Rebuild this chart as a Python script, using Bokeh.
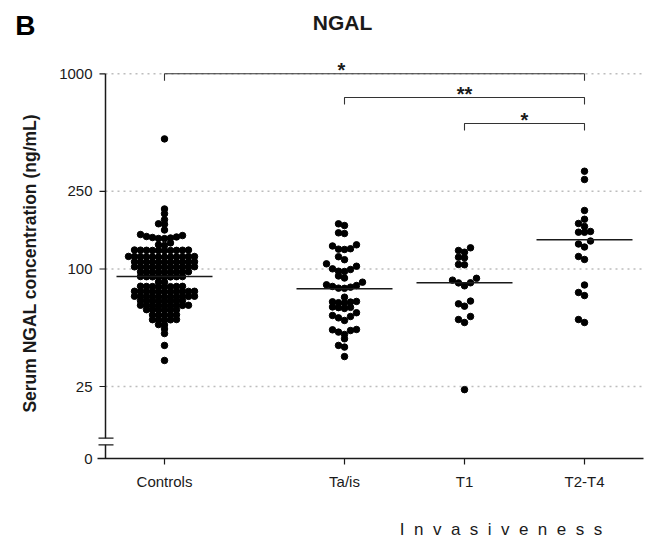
import numpy as np
from bokeh.plotting import figure
from bokeh.layouts import column
from bokeh.models import Range1d, FixedTicker
from bokeh.core.properties import value
from bokeh.embed import file_html
from bokeh.resources import INLINE

# ---------------- data ----------------
categories = ["Controls", "Ta/is", "T1", "T2-T4"]

controls = [
    464,
    203, 192, 179,
    170.5, 169.5,
    158.4,
    150.2, 148.4, 146.7, 145.9, 145.0, 144.2, 143.3, 143.1,
    136, 133, 132,
    125.1, 124.4, 124.9, 124.6, 125.0, 124.3, 124.8, 124.5, 124.7, 124.2,
    115.9, 115.3, 115.7, 115.5, 116.0, 115.2, 115.8, 115.4, 115.6, 115.1, 115.7, 115.9,
    108.9, 108.3, 108.7, 108.5, 108.8, 108.2, 108.6, 108.4, 108.9, 108.5, 108.7,
    102.7, 102.1, 102.5, 102.3, 102.6, 102.0, 102.4, 102.2, 102.6, 102.3, 102.5,
    96.8, 96.2, 96.6, 96.4, 96.7, 96.3, 96.5, 96.2, 96.7,
    91.4, 91.0, 91.3, 91.1, 91.5, 90.9, 91.2, 91.3,
    85.9, 85.6,
    81.5, 81.1, 81.4, 81.2, 81.6, 81.0, 81.3, 81.4,
    76.9, 76.5, 76.8, 76.6, 76.9, 76.4, 76.7, 76.5, 76.8, 76.6, 76.7,
    72.5, 72.1, 72.4, 72.2, 72.5, 72.0, 72.3, 72.1, 72.4, 72.2, 72.3,
    68.8, 68.4, 68.7, 68.5, 68.8, 68.3, 68.6, 68.5,
    65.2, 64.8, 65.1, 64.9, 65.2, 64.8, 65.0, 64.9, 65.1,
    61.9, 61.5, 61.8, 61.6, 61.8, 61.6,
    58.3, 57.9, 58.2, 58.0, 58.1,
    55.1, 54.7, 55.0, 54.8, 54.9,
    51.9, 51.7,
    49.3, 46.7, 40.6, 34.0,
]

ta_is = [
    170.4, 167.0, 153.2, 152.0,
    133.0, 131.2, 127.0, 126.4, 125.9,
    115.6, 111.6,
    106.3, 103.3, 100.2, 99.4, 97.4, 97.1,
    92.1, 89.9,
    85.6, 83.0, 82.3, 81.4, 80.7, 79.8, 79.6,
    71.7,
    68.2, 67.9, 67.7, 67.2, 66.9,
    63.9, 63.6, 63.4, 62.8,
    59.7, 57.8, 57.1, 56.2, 54.5,
    49.0, 48.8, 48.4, 47.5, 46.2,
    43.9, 40.6, 39.8, 35.6,
]

t1 = [128.4, 124.4, 121.9, 114.9, 114.1, 105.5, 105.1,
      89.6, 87.7, 85.0, 84.9, 82.0,
      68.5, 66.3, 64.5, 57.1, 55.1, 53.2, 24.1]

t2_t4 = [316.9, 287.4, 199.4, 179.8, 171.1, 165.1,
         155.7, 154.4, 154.2, 139.1, 134.3, 129.6,
         115.9, 111.9, 82.8, 75.8, 73.1, 55.1, 53.2]

medians = [91.5, 79.2, 85.0, 141.1]

y_ticks = [25, 100, 250, 1000]
y_tick_labels = ["25", "100", "250", "1000"]

# significance brackets
bracket_from = ["Controls", "Ta/is", "T1"]
bracket_to = ["T2-T4", "T2-T4", "T2-T4"]
bracket_level = [1000, 756, 556]
bracket_stars = ["*", "**", "*"]

panel_letter = "B"
title_text = "NGAL"
x_title = "Invasiveness"
y_title = "Serum NGAL concentration (ng/mL)"

# ---------------- layout (page pixels) ----------------
W = 647
HEAD_H, MAIN_H, FOOT_H = 58, 442, 43          # stacked figures, total 543
FRAME_L, FRAME_R = 97, 643
FRAME_T, FRAME_B = HEAD_H, 458
AXIS_X = 105                                  # y axis line
positions = [1.0, 2.5, 3.5, 4.5]              # x layout of the groups
PX_PER_X = 120.0
X0 = positions[0] - (164 - FRAME_L) / PX_PER_X
X1 = X0 + (FRAME_R - FRAME_L) / PX_PER_X
PX_PER_DEC = 195.2
Y_1000 = 73.3                                 # page px of the 1000 line
Y1 = 10 ** (3 + (Y_1000 - FRAME_T) / PX_PER_DEC)
Y0 = 10 ** (3 - (FRAME_B - Y_1000) / PX_PER_DEC)   # broken axis shows "0" here

FONT = "Liberation Sans"
INK = "#1a1a1a"


def xd(px):
    return X0 + (px - FRAME_L) / PX_PER_X


def yd(py):
    return 10 ** (np.log10(Y1) - (py - FRAME_T) / PX_PER_DEC)


COL_W = 6.0    # px between swarm columns
ROW_GAP = 3.5  # px; a larger gap starts a new swarm row


def swarm(values):
    v = np.sort(np.asarray(values, dtype=float))
    hp = np.log10(v) * PX_PER_DEC
    rows, cur = [], [0]
    for i in range(1, len(v)):
        if hp[i] - hp[i - 1] > ROW_GAP:
            rows.append(cur)
            cur = [i]
        else:
            cur.append(i)
    rows.append(cur)
    off = np.zeros(len(v))
    for r in rows:
        for k, idx in enumerate(r):
            c = 0 if k == 0 else (-((k + 1) // 2) if k % 2 == 1 else k // 2)
            off[idx] = c * COL_W / PX_PER_X
    return v, off


def strip_fig(h, top, with_left_axis=False):
    f = figure(width=W, height=h, x_range=Range1d(FRAME_L, FRAME_R),
               y_range=Range1d(top + h, top), output_backend="svg",
               toolbar_location=None, title=None,
               x_axis_location=None, y_axis_location="left" if with_left_axis else None,
               min_border_left=FRAME_L, min_border_right=W - FRAME_R,
               min_border_top=0, min_border_bottom=0)
    f.outline_line_color = None
    f.grid.visible = False
    return f


# ---------------- header: panel letter and title ----------------
head = strip_fig(HEAD_H, 0, with_left_axis=True)
head.yaxis.ticker = FixedTicker(ticks=[25])
head.yaxis.major_label_overrides = {25: panel_letter}
head.yaxis.axis_line_color = None
head.yaxis.major_tick_line_color = None
head.yaxis.minor_tick_line_color = None
head.yaxis.major_tick_out = 0
head.yaxis.major_tick_in = 0
head.yaxis.major_label_standoff = FRAME_L - 35
head.yaxis.major_label_text_font = FONT
head.yaxis.major_label_text_font_size = "28px"
head.yaxis.major_label_text_font_style = "bold"
head.yaxis.major_label_text_color = "black"
head.text(x=[342], y=[22], text=[title_text], text_font=value(FONT),
          text_font_size="21px", text_font_style="bold", text_color=INK,
          text_align="center", text_baseline="middle")

# ---------------- main plot ----------------
p = figure(width=W, height=MAIN_H, x_range=Range1d(X0, X1), y_range=Range1d(Y0, Y1),
           y_axis_type="log", output_backend="svg", toolbar_location=None, title=None,
           min_border_left=FRAME_L, min_border_right=W - FRAME_R,
           min_border_top=0, min_border_bottom=HEAD_H + MAIN_H - FRAME_B)
p.outline_line_color = None
p.grid.visible = False

p.xaxis.ticker = FixedTicker(ticks=positions)
p.xaxis.major_label_overrides = {pos: c for pos, c in zip(positions, categories)}
p.xaxis.axis_line_color = INK
p.xaxis.axis_line_width = 1.5
p.xaxis.major_tick_line_color = INK
p.xaxis.major_tick_line_width = 1.2
p.xaxis.major_tick_out = 6
p.xaxis.major_tick_in = 0
p.xaxis.minor_tick_line_color = None
p.xaxis.major_label_text_font = FONT
p.xaxis.major_label_text_font_size = "15px"
p.xaxis.major_label_text_color = INK
p.xaxis.major_label_standoff = 8

p.yaxis.ticker = FixedTicker(ticks=[Y0] + y_ticks)
ov = {Y0: "0"}
ov.update({t: s for t, s in zip(y_ticks, y_tick_labels)})
p.yaxis.major_label_overrides = ov
p.yaxis.axis_line_color = None
p.yaxis.major_tick_line_color = None
p.yaxis.major_tick_out = 0
p.yaxis.major_tick_in = 0
p.yaxis.minor_tick_line_color = None
p.yaxis.major_label_text_font = FONT
p.yaxis.major_label_text_font_size = "15px"
p.yaxis.major_label_text_color = INK
p.yaxis.major_label_standoff = 5
p.yaxis.axis_label = y_title + "\u2007"
p.yaxis.axis_label_text_font = FONT
p.yaxis.axis_label_text_font_size = "17.5px"
p.yaxis.axis_label_text_font_style = "bold"
p.yaxis.axis_label_text_color = INK
p.yaxis.axis_label_standoff = 16

xa = xd(AXIS_X)
p.segment(x0=[xa] * len(y_ticks), x1=[X1] * len(y_ticks), y0=y_ticks, y1=y_ticks,
          line_color="#bdbdbd", line_width=1.5, line_dash="2 4")
brk_top, brk_bot = yd(437.7), yd(444.3)
p.segment(x0=[xa, xa], x1=[xa, xa], y0=[1000, brk_bot], y1=[brk_top, Y0],
          line_color=INK, line_width=1.5)
all_ticks = [Y0] + y_ticks
p.segment(x0=[xd(AXIS_X - 6)] * len(all_ticks), x1=[xa] * len(all_ticks),
          y0=all_ticks, y1=all_ticks, line_color=INK, line_width=1.2)
p.segment(x0=[xd(98)] * 2, x1=[xd(113)] * 2, y0=[brk_top, brk_bot], y1=[brk_top, brk_bot],
          line_color=INK, line_width=1.2)

groups = [controls, ta_is, t1, t2_t4]
xs, ys = [], []
for pos, vals in zip(positions, groups):
    v, off = swarm(vals)
    xs.extend(pos + off)
    ys.extend(v)
p.scatter(xs, ys, size=6.5, marker="circle", fill_color="black", line_color="black")

p.segment(x0=[x - 0.4 for x in positions], x1=[x + 0.4 for x in positions],
          y0=medians, y1=medians, line_color=INK, line_width=1.6)

tick_px = 7.0
bx, by, sx, sy = [], [], [], []
for a, b, lev in zip(bracket_from, bracket_to, bracket_level):
    x_a = positions[categories.index(a)]
    x_b = positions[categories.index(b)]
    low = lev * 10 ** (-tick_px / PX_PER_DEC)
    bx.append([x_a, x_a, x_b, x_b])
    by.append([low, lev, lev, low])
    sx.append((x_a + x_b) / 2)
    sy.append(lev * 10 ** (4.0 / PX_PER_DEC))
sx[0] = xd(341)
p.multi_line(bx, by, line_color="#333333", line_width=1.1)
p.text(x=sx, y=sy, text=bracket_stars, text_font=value(FONT),
       text_font_size="20px", text_font_style="bold", text_color=INK,
       text_align="center", text_baseline="middle")

# ---------------- footer: x title ----------------
foot = strip_fig(FOOT_H, HEAD_H + MAIN_H)
foot.text(x=[500.5], y=[529], text=["\u2007".join(x_title)],
          text_font=value(FONT), text_font_size="17px", text_color=INK,
          text_align="center", text_baseline="middle")

layout = column(head, p, foot, spacing=0)
open("out.html", "w").write(file_html(layout, INLINE))
